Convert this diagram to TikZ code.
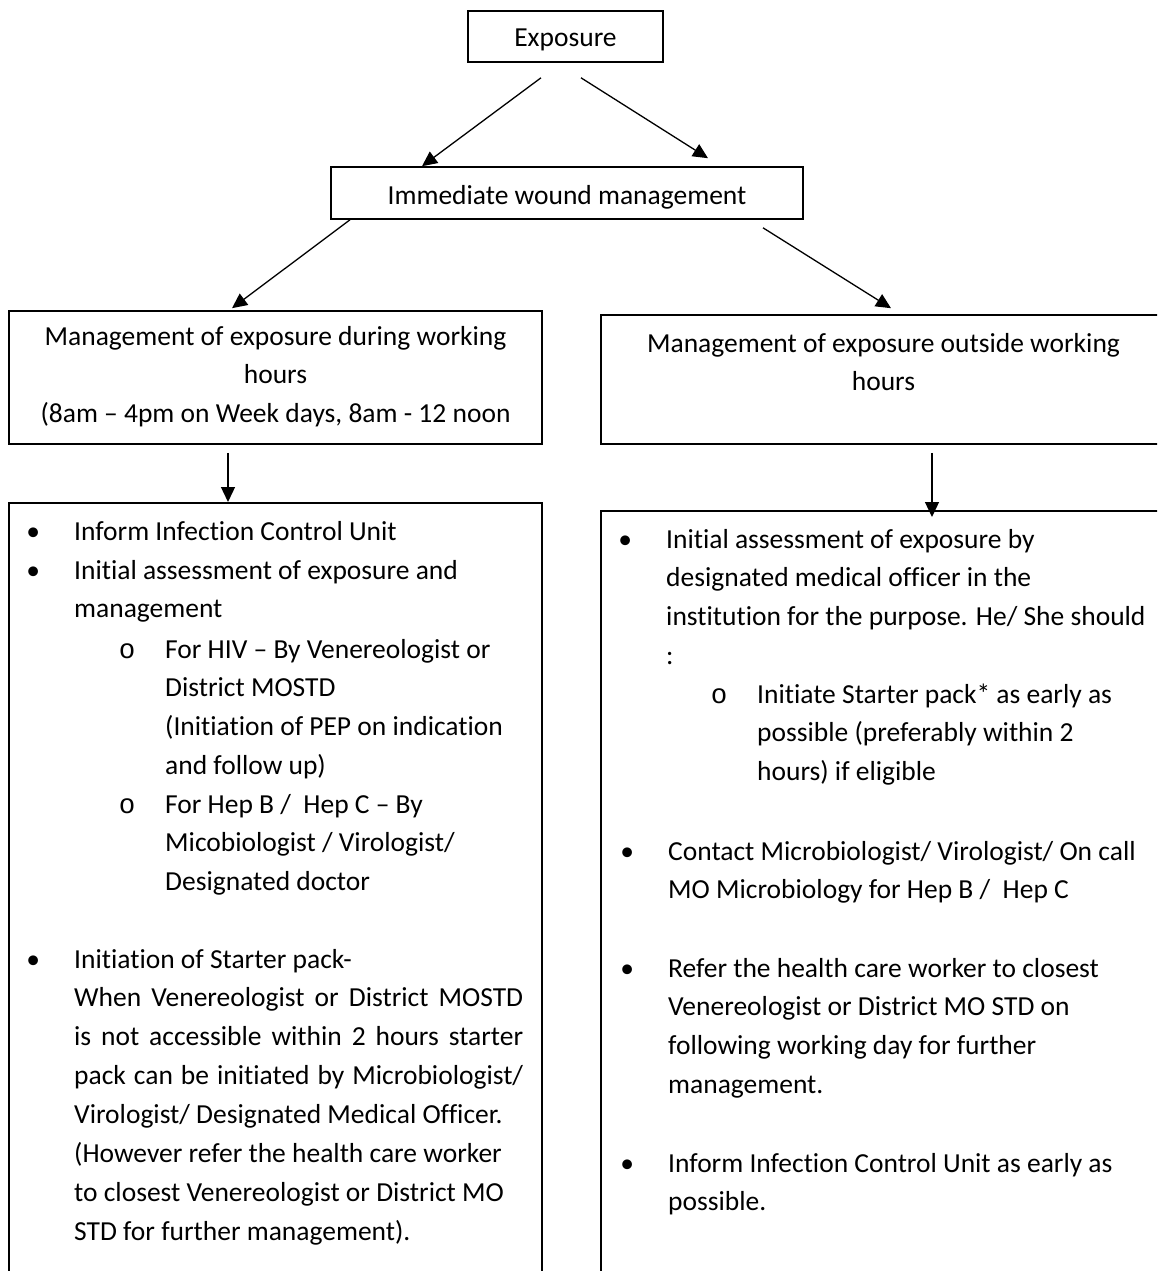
\documentclass[tikz,border=0pt]{standalone}
\usepackage{fontspec}
\setmainfont{Carlito}[Ligatures=NoCommon]
\newfontfamily\monof{Liberation Mono}
\usetikzlibrary{arrows.meta}
\newcommand\bul{\llap{\makebox[0pt][c]{\textbullet}\hspace{41pt}}}
\newcommand\cir{\llap{\makebox[0pt][c]{\monof o}\hspace{38pt}}}
\tikzset{
  box/.style={draw, line width=1.6pt, inner sep=0pt},
  arr/.style={-{Triangle[length=15pt,width=14pt]}, line width=1.3pt},
  item/.style={anchor=base west, align=left, inner sep=0pt},
  ctext/.style={anchor=base, align=center, inner sep=0pt},
}
\begin{document}
\begin{tikzpicture}[x=1pt,y=-1pt,font=\fontsize{27.5}{38.9}\selectfont]
\useasboundingbox (0,0) rectangle (1157,1271);
\clip (0,0) rectangle (1157,1271);
\fill[white] (0,0) rectangle (1157,1271);
% boxes
\node (exp) [box, minimum width=195pt, minimum height=51pt] at (565.5,36.5) {};
\node (imm) [box, minimum width=472pt, minimum height=52pt] at (567,193) {};
\node (lm) [box, minimum width=533pt, minimum height=133pt] at (275.5,377.5) {};
\node (rm) [box, minimum width=565pt, minimum height=129pt] at (883.5,379.5) {};
\node (ll) [box, minimum width=533pt, minimum height=800pt, anchor=north] at (275.5,502) {};
\node (rl) [box, minimum width=565pt, minimum height=800pt, anchor=north] at (883.5,510) {};
% box texts (multi-line nodes: anchor at last baseline)
\node (expt) [ctext] at (565.5,47) {Exposure};
\node (immt) [ctext] at (567,204) {Immediate wound management};
\node (lmt) [ctext] at (275.5,422.8) {Management of exposure during working\\hours\\(8am – 4pm on Week days, 8am - 12 noon};
\node (rmt) [ctext] at (883.5,390.9) {Management of exposure outside working\\hours};
% arrows
\draw[arr] ([xshift=-24.5pt,yshift=-15pt]exp.south) -- ([xshift=-145pt]imm.north);
\draw[arr] ([xshift=15.5pt,yshift=-15pt]exp.south) -- ([xshift=141pt,yshift=8pt]imm.north);
\draw[arr] ([xshift=-217pt]imm.south) -- ([xshift=-43.5pt,yshift=2pt]lm.north);
\draw[arr] ([xshift=196pt,yshift=-8pt]imm.south) -- ([xshift=7.5pt,yshift=6pt]rm.north);
\draw[arr] ([xshift=-47.5pt,yshift=-8pt]lm.south) -- ([xshift=-47.5pt]ll.north);
\draw[arr] ([xshift=48.5pt,yshift=-8pt]rm.south) -- ([xshift=48.5pt,yshift=-7pt]rl.north);
% left list
\node (l1) [item] at (74,540) {\bul Inform Infection Control Unit};
\node (l2) [item] at (74,617.9) {\bul Initial assessment of exposure and\\management};
\node (l2a) [item] at (165,774.7) {\cir For HIV – By Venereologist or\\District MOSTD\\(Initiation of PEP on indication\\and follow up)};
\node (l2b) [item] at (165,890.8) {\cir For Hep B /\ \ Hep C – By\\Micobiologist / Virologist/\\Designated doctor};
\node (l3) [item] at (74,1240.3) {\bul Initiation of Starter pack-\\\hbox to 449pt{When Venereologist or District MOSTD}\\\hbox to 449pt{is not accessible within 2 hours starter}\\\hbox to 449pt{pack can be initiated by Microbiologist/}\\Virologist/ Designated Medical Officer.\\(However refer the health care worker\\to closest Venereologist or District MO\\STD for further management).};
% right list
\node (r1) [item] at (666,664.7) {\bul Initial assessment of exposure by\\designated medical officer in the\\institution for the purpose. He/ She should\\:};
\node (r1a) [item] at (757,780.8) {\cir Initiate Starter pack* as early as\\possible (preferably within 2\\hours) if eligible};
\node (r2) [item] at (668,898.9) {\bul Contact Microbiologist/ Virologist/ On call\\MO Microbiology for Hep B /\ \ Hep C};
\node (r3) [item] at (668,1093.7) {\bul Refer the health care worker to closest\\Venereologist or District MO STD on\\following working day for further\\management.};
\node (r4) [item] at (668,1210.9) {\bul Inform Infection Control Unit as early as\\possible.};
\end{tikzpicture}
\end{document}
